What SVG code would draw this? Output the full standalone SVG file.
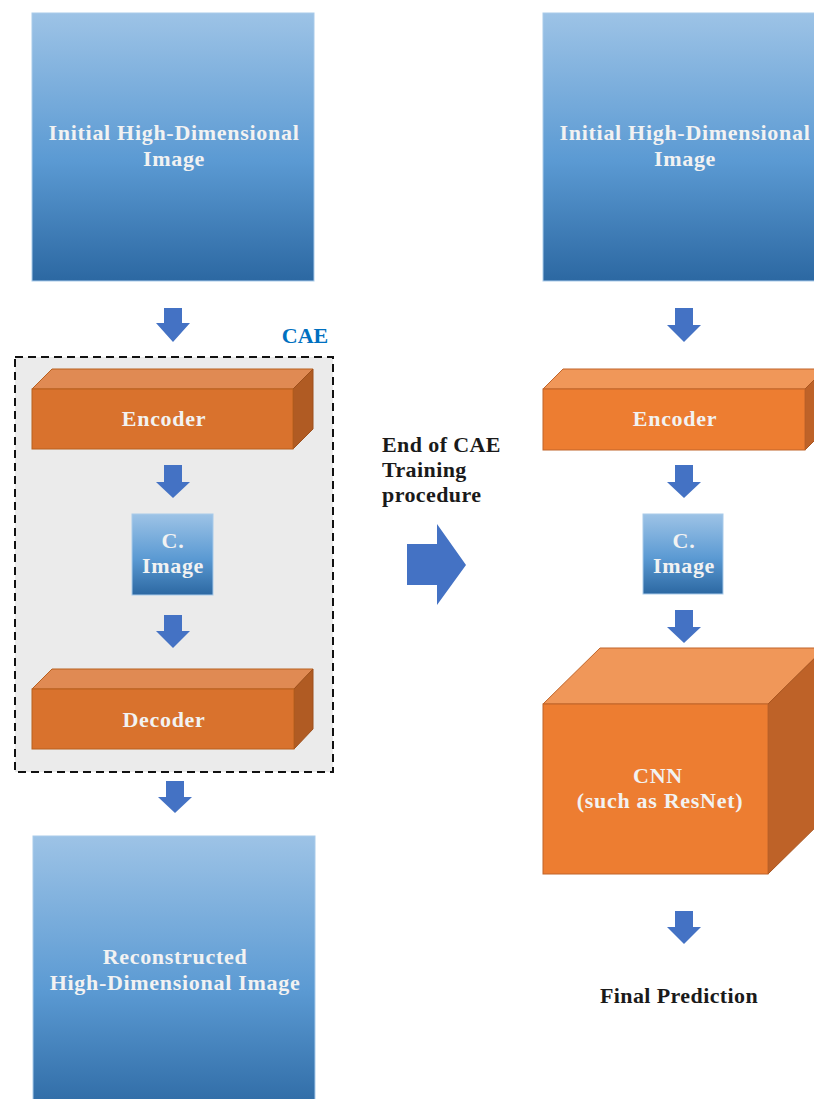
<svg xmlns="http://www.w3.org/2000/svg" width="814" height="1099" viewBox="0 0 814 1099">
<defs>
<linearGradient id="blueG" x1="0" y1="0" x2="0" y2="1">
<stop offset="0" stop-color="#9DC3E6"/>
<stop offset="0.55" stop-color="#5B9AD3"/>
<stop offset="1" stop-color="#2C68A2"/>
</linearGradient>
<style>
.img{fill:url(#blueG);stroke:#A9CBEA;stroke-width:1}
.lbl{font-family:"Liberation Serif","Times New Roman",serif;font-weight:bold;font-size:22px;letter-spacing:0.7px;fill:#F2F2F2;text-anchor:middle}
.blk{font-family:"Liberation Serif","Times New Roman",serif;font-weight:bold;font-size:22px;letter-spacing:0.4px;fill:#1a1a1a}
.arr{fill:#4472C4}
.lf{fill:#D9722D;stroke:#B8601F;stroke-width:1}
.lt{fill:#E08A53;stroke:#B8601F;stroke-width:1}
.ls{fill:#B05B23;stroke:#9E501C;stroke-width:1}
.rf{fill:#ED7D31;stroke:#C0652A;stroke-width:1}
.rt{fill:#F09759;stroke:#C0652A;stroke-width:1}
.rs{fill:#BE6228;stroke:#A95620;stroke-width:1}
</style>
</defs>
<rect width="814" height="1099" fill="#FFFFFF"/>

<g id="cae-box">
<rect x="15" y="357" width="318" height="415" fill="#EBEBEB" stroke="#111" stroke-width="2" stroke-dasharray="8,5"/>
<text x="305" y="343" font-family="Liberation Serif, serif" font-weight="bold" font-size="22" fill="#0070C0" text-anchor="middle">CAE</text>
</g>

<g id="left-input">
<rect class="img" x="32" y="13" width="282" height="268"/>
<text class="lbl" x="174" y="140">Initial High-Dimensional</text>
<text class="lbl" x="174" y="166">Image</text>
</g>

<g id="left-encoder">
<polygon class="lt" points="32,389 52,369 313,369 293,389"/>
<polygon class="ls" points="293,389 313,369 313,429 293,449"/>
<rect class="lf" x="32" y="389" width="261" height="60"/>
<text class="lbl" x="164" y="426">Encoder</text>
</g>

<g id="left-cimage">
<rect class="img" x="132" y="514" width="81" height="81"/>
<text class="lbl" x="173" y="548">C.</text>
<text class="lbl" x="173" y="573">Image</text>
</g>

<g id="left-decoder">
<polygon class="lt" points="32,689 52,669 313,669 294,689"/>
<polygon class="ls" points="294,689 313,669 313,729 294,749"/>
<rect class="lf" x="32" y="689" width="262" height="60"/>
<text class="lbl" x="164" y="727">Decoder</text>
</g>

<g id="left-output">
<rect class="img" x="33" y="836" width="282" height="280"/>
<text class="lbl" x="175" y="964">Reconstructed</text>
<text class="lbl" x="175" y="990">High-Dimensional Image</text>
</g>

<g id="transition-label">
<text class="blk" x="382" y="452">End of CAE</text>
<text class="blk" x="382" y="477">Training</text>
<text class="blk" x="382" y="502">procedure</text>
</g>

<g id="right-input">
<rect class="img" x="543" y="13" width="282" height="268"/>
<text class="lbl" x="685" y="140">Initial High-Dimensional</text>
<text class="lbl" x="685" y="166">Image</text>
</g>

<g id="right-encoder">
<polygon class="rt" points="543,389 563,369 825,369 805,389"/>
<polygon class="rs" points="805,389 825,369 825,430 805,450"/>
<rect class="rf" x="543" y="389" width="262" height="61"/>
<text class="lbl" x="675" y="426">Encoder</text>
</g>

<g id="right-cimage">
<rect class="img" x="643" y="514" width="80" height="80"/>
<text class="lbl" x="684" y="548">C.</text>
<text class="lbl" x="684" y="573">Image</text>
</g>

<g id="cnn">
<polygon class="rt" points="543,704 600,648 825,648 768,704"/>
<polygon class="rs" points="768,704 825,648 825,818 768,874"/>
<rect class="rf" x="543" y="704" width="225" height="170"/>
<text class="lbl" x="658" y="783">CNN</text>
<text class="lbl" x="660" y="808">(such as ResNet)</text>
</g>

<g id="final-prediction">
<text class="blk" x="679" y="1003" text-anchor="middle">Final Prediction</text>
</g>

<g id="connectors">
<polygon class="arr" points="164,308 182,308 182,323 190,323 173,342 156,323 164,323"/>
<polygon class="arr" points="164,465 182,465 182,482 190,482 173,498 156,482 164,482"/>
<polygon class="arr" points="164,615 182,615 182,631 190,631 173,648 156,631 164,631"/>
<polygon class="arr" points="166,781 184,781 184,797 192,797 175,813 158,797 166,797"/>
<polygon class="arr" points="675,308 693,308 693,325 701,325 684,342 667,325 675,325"/>
<polygon class="arr" points="675,465 693,465 693,482 701,482 684,498 667,482 675,482"/>
<polygon class="arr" points="675,610 693,610 693,627 701,627 684,643 667,627 675,627"/>
<polygon class="arr" points="675,911 693,911 693,927 701,927 684,944 667,927 675,927"/>
<polygon class="arr" points="407,544 437,544 437,524 466,565 437,605 437,585 407,585"/>
</g>
</svg>
